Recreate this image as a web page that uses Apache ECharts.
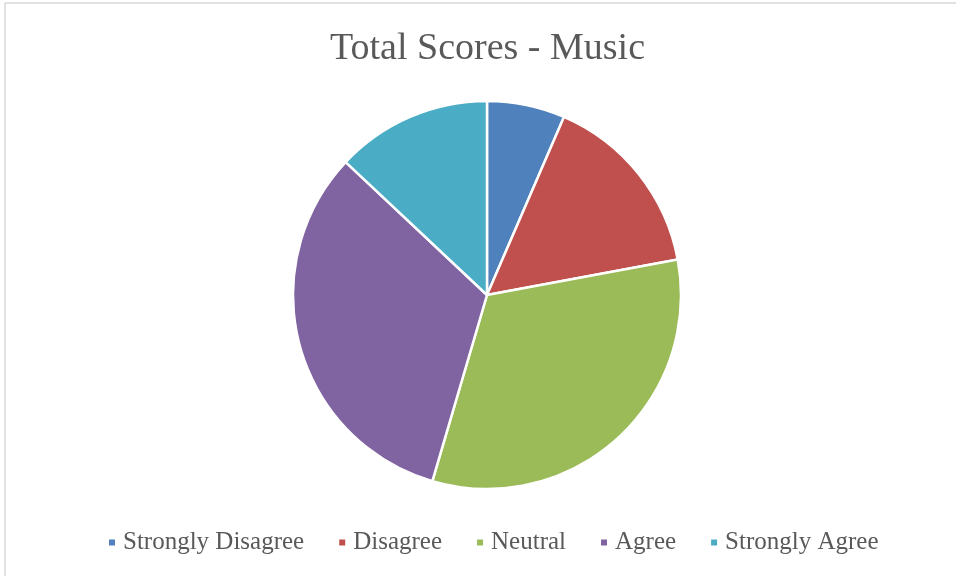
<!DOCTYPE html>
<html>
<head>
<meta charset="utf-8">
<script src="https://cdn.jsdelivr.net/npm/echarts@6/dist/echarts.min.js"></script>
<style>
  html, body { margin: 0; padding: 0; background: #ffffff; }
  #chart { width: 956px; height: 576px; }
</style>
</head>
<body>
<div id="chart"></div>
<script>
// Survey responses for the Music section
const categories = ['Strongly Disagree', 'Disagree', 'Neutral', 'Agree', 'Strongly Agree'];
const scores = [5, 12, 25, 25, 10];
const colors = ['#4F81BD', '#C0504D', '#9BBB59', '#8064A2', '#4BACC6'];

const chart = echarts.init(document.getElementById('chart'));

chart.setOption({
  backgroundColor: '#ffffff',
  animation: false,
  color: colors,
  title: {
    text: 'Total Scores - Music',
    left: 325,
    top: 25,
    textStyle: {
      fontFamily: 'Liberation Serif',
      fontSize: 38,
      fontWeight: 'normal',
      color: '#595959'
    }
  },
  legend: {
    bottom: 16,
    left: 102,
    icon: 'rect',
    itemWidth: 8,
    itemHeight: 8,
    itemGap: 33,
    data: categories,
    textStyle: {
      fontFamily: 'Liberation Serif',
      fontSize: 25,
      color: '#595959',
      padding: [0, 0, 0, 2]
    }
  },
  graphic: [
    { type: 'line', shape: { x1: 5, y1: 3, x2: 956, y2: 3 }, style: { stroke: '#d9d9d9', lineWidth: 1.5 } },
    { type: 'line', shape: { x1: 5, y1: 3, x2: 5, y2: 576 }, style: { stroke: '#d9d9d9', lineWidth: 1.5 } }
  ],
  series: [{
    type: 'pie',
    center: [487, 295],
    radius: 194,
    startAngle: 90,
    clockwise: true,
    label: { show: false },
    labelLine: { show: false },
    emphasis: { disabled: true },
    itemStyle: { borderColor: '#ffffff', borderWidth: 2.5 },
    data: categories.map((name, i) => ({ name, value: scores[i] }))
  }]
});
</script>
</body>
</html>
